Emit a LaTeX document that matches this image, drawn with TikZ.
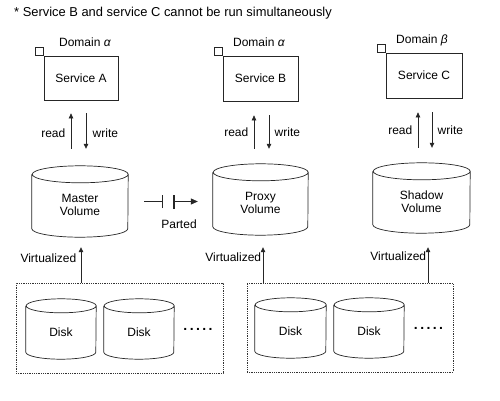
\documentclass[tikz,border=0pt]{standalone}
\usepackage{fontspec}
\setmainfont{Liberation Sans}
\usetikzlibrary{arrows.meta,calc}
\newcommand\mycyl[7]{% #1 name, #2 x, #3 y, #4 w, #5 h, #6 ry, #7 text
  \node[cylbox, minimum width=#4pt, minimum height=#5pt] (#1) at (#2,#3) {};
  \draw[ln] ([yshift=-#6pt]#1.north west) -- ([yshift=#6pt]#1.south west)
     arc[start angle=180,end angle=360,x radius=#4pt/2,y radius=#6pt]
     -- ([yshift=-#6pt]#1.north east)
     arc[start angle=0,end angle=360,x radius=#4pt/2,y radius=#6pt];
  \node[align=center] (#1t) at ([yshift=-3.5pt]#1.center) {#7};
}
\newcommand\dotrow{.\kern2.4pt.\kern2.4pt.\kern2.4pt.\kern2.4pt.}
\begin{document}
\begin{tikzpicture}[x=1pt,y=1pt, font=\fontsize{12}{13}\selectfont,
  ln/.style={line width=0.7pt, draw=black!85},
  svc/.style={ln, draw, minimum width=75pt, minimum height=45pt, inner sep=0pt},
  sq/.style={ln, draw, minimum size=8pt, inner sep=0pt, anchor=south east},
  arr/.style={ln, -{Triangle[length=5pt,width=4.5pt]}},
  dotbox/.style={draw=black!80, line width=0.6pt, dash pattern=on 0.7pt off 1.1pt, inner sep=0pt},
  cylbox/.style={inner sep=0pt, draw=none},
  dotsfont/.style={font=\fontsize{14}{14}\selectfont\bfseries, inner sep=0pt}]
\useasboundingbox[fill=white] (0,0) rectangle (500,400);

% title
\node[anchor=west, inner sep=0pt, font=\fontsize{12.9}{14}\selectfont] (title) at (14,387) {* Service B and service C cannot be run simultaneously};

% domains
\node (dA) at (85,358) {Domain \textit{α}};
\node (dB) at (259,358) {Domain \textit{α}};
\node (dC) at (422,360) {Domain \textit{β}};

% services
\node[svc, minimum width=74pt, minimum height=44pt] (sA) at (81,322) {Service A};
\node[svc] (sB) at (260.5,321.5) {Service B};
\node[svc, minimum width=76pt] (sC) at (424,324.5) {Service C};
\node[sq] (qA) at (sA.north west) {};
\node[sq] (qB) at (sB.north west) {};
\node[sq] (qC) at (sC.north west) {};

% volumes
\mycyl{mv}{80}{198.5}{96}{71}{8.5}{Master\\Volume}
\mycyl{pv}{260.5}{200.5}{95}{71}{8.5}{Proxy\\Volume}
\mycyl{sv}{421.5}{202}{97}{70}{8.5}{Shadow\\Volume}

% read / write
\draw[arr, shorten <=17pt, shorten >=13pt] ([xshift=-9pt]mv.north) -- ([xshift=-9pt]mv.north |- sA.south) node[midway,left=2pt]{read};
\draw[arr, shorten <=13pt, shorten >=17pt] ([xshift=6pt]mv.north |- sA.south) -- ([xshift=6pt]mv.north) node[midway,right=3pt]{write};
\draw[arr, shorten <=15pt, shorten >=14pt] ([xshift=-6.5pt]pv.north) -- ([xshift=-6.5pt]pv.north |- sB.south) node[midway,left=2pt]{read};
\draw[arr, shorten <=14pt, shorten >=15pt] ([xshift=8.5pt]pv.north |- sB.south) -- ([xshift=8.5pt]pv.north) node[midway,right=2pt]{write};
\draw[arr, shorten <=15pt, shorten >=14pt] ([xshift=-3.5pt]sv.north) -- ([xshift=-3.5pt]sv.north |- sC.south) node[midway,left=2pt]{read};
\draw[arr, shorten <=14pt, shorten >=15pt] ([xshift=10.5pt]sv.north |- sC.south) -- ([xshift=10.5pt]sv.north) node[midway,right=2pt]{write};

% parted
\draw[ln] ([xshift=16pt]mv.east) -- ++(18,0) coordinate (b1);
\draw[ln] ([yshift=-6.5pt]b1) -- ([yshift=6.5pt]b1);
\draw[line width=1.7pt, black!85] ([xshift=12pt,yshift=-7pt]b1) -- ([xshift=12pt,yshift=7pt]b1);
\draw[ln, -{Triangle[length=7pt,width=6pt]}, shorten >=15pt] ([xshift=12pt]b1) -- (b1 -| pv.west);
\node (parted) at (179,176) {Parted};

% disk groups
\node[dotbox, minimum width=207pt, minimum height=90pt] (lb) at (119.5,72) {};
\node[dotbox, minimum width=206pt, minimum height=89pt] (rb) at (350,72.5) {};
\mycyl{d1}{61}{71}{70}{60}{7}{Disk}
\mycyl{d2}{139}{71}{70}{60}{7}{Disk}
\mycyl{d3}{290.5}{72}{71}{60}{7}{Disk}
\mycyl{d4}{369}{72}{70}{60}{7}{Disk}
\node[dotsfont] (e1) at (198,71) {\dotrow};
\node[dotsfont] (e2) at (428.5,72) {\dotrow};

% virtualized
\draw[arr, shorten >=10pt] ([xshift=1pt]mv.south |- lb.north) -- ([xshift=1pt]mv.south) node[midway,left=1pt, yshift=2pt]{Virtualized};
\draw[arr, shorten >=12pt] ([xshift=2.5pt]pv.south |- rb.north) -- ([xshift=2.5pt]pv.south) node[midway,left, inner sep=1.5pt, yshift=2pt]{Virtualized};
\draw[arr, shorten >=14pt] ([xshift=6.5pt]sv.south |- rb.north) -- ([xshift=6.5pt]sv.south) node[midway,left, inner sep=1.5pt, yshift=2pt]{Virtualized};
\end{tikzpicture}
\end{document}
